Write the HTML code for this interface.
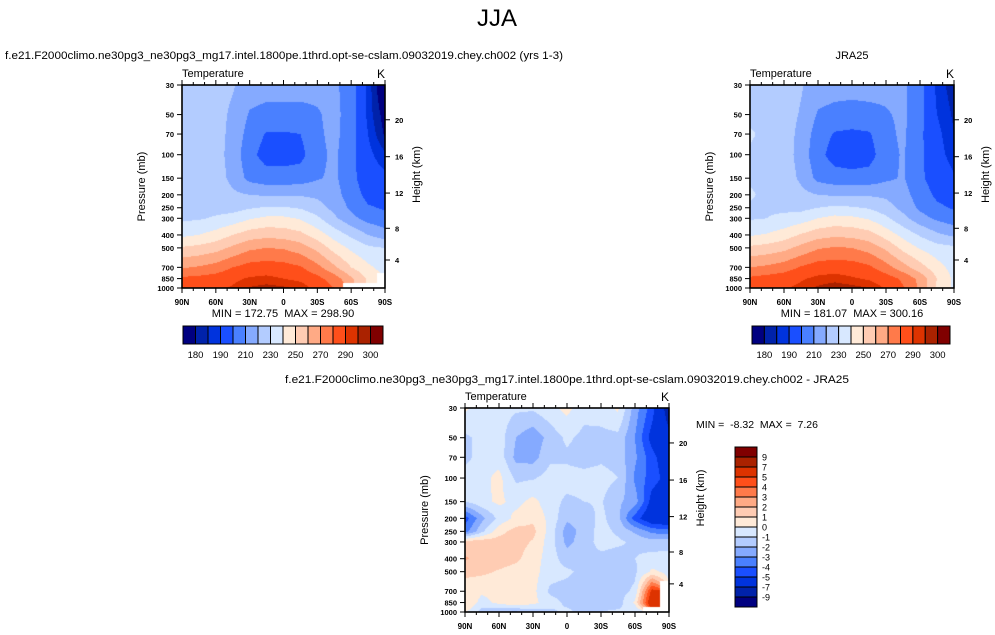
<!DOCTYPE html>
<html><head><meta charset="utf-8">
<style>
html,body{margin:0;padding:0;background:#fff;}
#root{position:relative;width:995px;height:635px;overflow:hidden;background:#fff;font-family:"Liberation Sans",sans-serif;}
canvas{position:absolute;}
svg{position:absolute;left:0;top:0;}
</style></head>
<body>
<div id="root">
<canvas id="c1"></canvas>
<canvas id="c2"></canvas>
<canvas id="c3"></canvas>
<svg id="ov" width="995" height="635"></svg>
</div>
<script>
// ---------- data ----------
const P = [30,50,70,100,150,200,250,300,400,500,700,850,1000];
const LAT = [90,75,60,45,30,15,0,-15,-30,-45,-60,-75,-90];
const LAT_TICKS = [90,60,30,0,-30,-60,-90];
const LAT_LABELS = ['90N','60N','30N','0','30S','60S','90S'];
const HEIGHT_KM = [4,8,12,16,20];
const HEIGHT_P = [616.6,356.5,194.0,103.5,54.7];
const LEV_T = [180,185,190,200,210,220,230,240,250,260,270,280,290,295,300];
const LEV_T_LABELS = ['180','190','210','230','250','270','290','300'];
const LEV_D = [-9,-7,-5,-4,-3,-2,-1,0,1,2,3,4,5,7,9];
const LEV_D_LABELS = ['-9','-7','-5','-4','-3','-2','-1','0','1','2','3','4','5','7','9'];
const COLORS = ['#000080','#0022aa','#0033dd','#1a4fff','#4a80ff','#85aaff','#b3ccff','#d8e8ff',
                '#ffead8','#ffccb3','#ffaa85','#ff7a4a','#ff4f1a','#dd3300','#aa2200','#800000'];
const MODEL_T = [
 [226,225,224,221,215,214,214,214,213,212,205,188,172],
 [227,226,224,218,209,207,207,207,209,213,205,188,177],
 [227,226,224,217,206,199,199,200,208,213,204,190,179],
 [228,226,224,216,203,196,196,197,207,212,203,192,186],
 [228,227,225,217,207,204,204,205,209,212,203,194,192],
 [228,227,226,222,220,219,219,219,218,214,205,197,196],
 [228,228,227,226,229,231,231,229,224,217,208,201,199],
 [228,229,231,234,239,242,242,239,232,222,213,206,203],
 [238,240,244,250,255,257,256,253,245,236,228,220,215],
 [251,253,256,262,268,270,269,265,257,246,238,232,230],
 [269,271,274,280,284,285,284,281,273,262,250,242,236],
 [282,283,285,288,291,292,290,288,283,275,262,248,null],
 [285,286,288,291,295.5,297,296,294,287,280,null,null,null]
];
const JRA_T = [
 [227,226,225,221,215,214,214,214,213,212,204,188,182],
 [228,227,225,219,209,207,206,207,209,212,203,190,184],
 [231,228,225,217,205,199,198,199,207,212,202,192,185],
 [229,227,225,216,203,196,195,196,206,211,202,193,187],
 [229,228,226,218,207,204,203,204,208,211,202,195,191],
 [231,228,227,223,220,219,219,219,218,214,205,198,195],
 [229,229,228,227,230,232,231,229,224,217,208,202,199],
 [229,230,232,235,240,243,242,239,232,223,214,208,204],
 [239,241,245,251,256,258,257,254,246,237,229,222,218],
 [252,254,257,263,269,271,270,266,258,247,239,234,232],
 [270,272,275,281,285,286,285,282,274,264,254,244,236],
 [282,284,286,289,292,293,291,289,285,278,267,250,238],
 [285,287,289,292,296,298,297,295,289,281,268,248,238]
];
const DIFF_T = [
 [0.2,-0.5,-0.5,-0.8,-0.8,-0.3,0.3,-0.6,-0.5,0.2,-2.5,-4.5,-8],
 [-1.2,-0.7,-0.5,-2.0,-2.7,-1.6,-0.8,-1.3,-1.3,-1.3,-3,-5.5,-6.5],
 [-1.3,-0.6,-0.4,-2.3,-2.4,-1.2,-1.2,-1.5,-1.2,-1.4,-2.8,-4.6,-6],
 [-0.5,-0.3,0.3,-1.2,-1.1,-0.6,-0.6,-0.6,-0.6,-1.0,-3.2,-4.5,-5.5],
 [-1.0,-0.3,0.2,-0.3,0.3,-0.6,-1.2,-1.0,-0.9,-1.8,-2.5,-5.5,-6.2],
 [-4.5,-2.3,-0.7,0.3,0.8,-0.3,-1.8,-1.6,-0.7,-1.7,-4.5,-6.2,-6.5],
 [-3.5,-1.2,0.6,1.4,1.3,-0.4,-2.5,-1.6,-0.6,-1.2,-2.2,-3.3,-3.6],
 [1.5,1.6,1.5,1.4,0.9,-0.5,-2.3,-1.5,-0.6,-0.8,-1.2,-1.6,-1.4],
 [2.1,1.7,1.5,1.2,0.5,-0.5,-1.5,-1.4,-1.3,-1.5,-1.0,-0.6,-0.6],
 [1.3,1.2,0.9,0.6,0.4,-0.6,-0.8,-1.3,-1.5,-1.5,-1.2,0.2,-0.3],
 [0.4,0.2,0.4,0.5,0.3,-1.2,-1.4,-1.5,-1.5,-1.4,-0.8,5.5,null],
 [1.1,-0.4,0.3,0.9,0.3,-0.6,-1.2,-1.5,-1.4,-1.5,0.2,6.5,null],
 [0.2,-1.5,-2,-2.2,-1.5,-1.2,-0.8,-1.3,-1.0,-0.8,-1,null,null]
];

// ---------- helpers ----------
const NS='http://www.w3.org/2000/svg';
const ov=document.getElementById('ov');
function mk(tag,attrs,parent){const e=document.createElementNS(NS,tag);for(const k in attrs)e.setAttribute(k,attrs[k]);(parent||ov).appendChild(e);return e;}
function txt(s,x,y,size,anchor,extra){const e=mk('text',Object.assign({x:x,y:y,'font-size':size,'text-anchor':anchor||'start','font-family':'Liberation Sans, sans-serif',fill:'#000'},extra||{}));e.textContent=s;return e;}
function hex(c){return [parseInt(c.substr(1,2),16),parseInt(c.substr(3,2),16),parseInt(c.substr(5,2),16)];}
function colorIdx(v,lev){let i=0;while(i<lev.length&&v>=lev[i])i++;return i;}

function makePanel(id,L,T,W,H,data,lev){
  const xOf=lat=>L+W*(90-lat)/180;
  const yOf=p=>T+H*Math.log(p/30)/Math.log(1000/30);
  const cv=document.getElementById(id);
  cv.width=W;cv.height=H;cv.style.left=L+'px';cv.style.top=T+'px';
  const ctx=cv.getContext('2d');const img=ctx.createImageData(W,H);
  const gx=LAT.map(xOf), gy=P.map(yOf);
  const rgb=COLORS.map(hex);
  for(let py=0;py<H;py++){
    const y=T+py+0.5;
    let j=0;while(j<gy.length-2&&y>gy[j+1])j++;
    const ty=Math.min(1,Math.max(0,(y-gy[j])/(gy[j+1]-gy[j])));
    for(let px=0;px<W;px++){
      const x=L+px+0.5;
      let i=0;while(i<gx.length-2&&x>gx[i+1])i++;
      const tx=Math.min(1,Math.max(0,(x-gx[i])/(gx[i+1]-gx[i])));
      const c=[[data[j][i],(1-tx)*(1-ty)],[data[j][i+1],tx*(1-ty)],[data[j+1][i],(1-tx)*ty],[data[j+1][i+1],tx*ty]];
      const ni=tx<0.5?i:i+1, nj=ty<0.5?j:j+1;
      const k=(py*W+px)*4;
      if(data[nj][ni]===null){img.data[k]=255;img.data[k+1]=255;img.data[k+2]=255;img.data[k+3]=255;continue;}
      let s=0,w=0;for(const [v,ww] of c){if(v!==null){s+=v*ww;w+=ww;}}
      const col=rgb[colorIdx(s/w,lev)];
      img.data[k]=col[0];img.data[k+1]=col[1];img.data[k+2]=col[2];img.data[k+3]=255;
    }
  }
  ctx.putImageData(img,0,0);
  const g=mk('g',{});
  
  
  mk('rect',{x:L,y:T,width:W,height:H,fill:'none',stroke:'#000','stroke-width':1.6},g);
  for(let lat=90;lat>=-90;lat-=10){
    const x=xOf(lat);const major=(lat%30===0);const len=major?5:3;
    mk('line',{x1:x,y1:T,x2:x,y2:T-len,stroke:'#000','stroke-width':1},g);
    mk('line',{x1:x,y1:T+H,x2:x,y2:T+H+len,stroke:'#000','stroke-width':1},g);
  }
  LAT_TICKS.forEach((lat,n)=>{
    const t=txt(LAT_LABELS[n],xOf(lat),T+H+17,8,'middle',{'font-weight':'bold'});
    
    
  });
  P.forEach(p=>{
    const y=yOf(p);
    mk('line',{x1:L,y1:y,x2:L-5,y2:y,stroke:'#000','stroke-width':1},g);
    const t=txt(String(p),L-8,y+3,7.5,'end',{'font-weight':'bold'});
    
    
  });
  HEIGHT_KM.forEach((h,n)=>{
    const y=yOf(HEIGHT_P[n]);
    mk('line',{x1:L+W,y1:y,x2:L+W+5,y2:y,stroke:'#000','stroke-width':1},g);
    const t=txt(String(h),L+W+10,y+3,7.5,'start',{'font-weight':'bold'});
    
    
  });
  const yl=txt('Pressure (mb)',0,0,11,'middle',{transform:'translate('+(L-37)+','+(T+H/2)+') rotate(-90)'});
  
  
  const yr=txt('Height (km)',0,0,11,'middle',{transform:'translate('+(L+W+35)+','+(T+H/2-12)+') rotate(-90)'});
  
  
  const tt=txt('Temperature',L,T-8,11,'start');
  
  
  const ku=txt('K',L+W,T-7,12,'end');
  
  
}

function hColorbar(x0,y0,w,h,labels){
  const bw=w/16;
  COLORS.forEach((c,i)=>{
    const r=mk('rect',{x:x0+i*bw,y:y0,width:bw,height:h,fill:c,stroke:'#000','stroke-width':1});
    
    
  });
  labels.forEach((s,n)=>{
    const t=txt(s,x0+(2*n+1)*bw,y0+h+14,9.5,'middle');
    
    
  });
}
function vColorbar(x0,y0,w,h,labels){
  const bh=h/16;
  COLORS.forEach((c,i)=>{
    const r=mk('rect',{x:x0,y:y0+(15-i)*bh,width:w,height:bh,fill:c,stroke:'#000','stroke-width':1});
    
    
  });
  labels.forEach((s,n)=>{
    const t=txt(s,x0+w+5,y0+(15-n)*bh+3.5,9,'start');
    
    
  });
}

// ---------- build ----------
const title=txt('JJA',497,26,24,'middle');


const t1=txt('f.e21.F2000climo.ne30pg3_ne30pg3_mg17.intel.1800pe.1thrd.opt-se-cslam.09032019.chey.ch002 (yrs 1-3)',5,59,11,'start',{textLength:558,lengthAdjust:'spacingAndGlyphs'});


const t2=txt('JRA25',852,59,11,'middle');


const t3=txt('f.e21.F2000climo.ne30pg3_ne30pg3_mg17.intel.1800pe.1thrd.opt-se-cslam.09032019.chey.ch002 - JRA25',567,383,11,'middle',{textLength:564,lengthAdjust:'spacingAndGlyphs'});



makePanel('c1',182,85,203,203,MODEL_T,LEV_T);
makePanel('c2',750,85,204,203,JRA_T,LEV_T);
makePanel('c3',465,408,204,204,DIFF_T,LEV_D);

const m1=txt('MIN = 172.75  MAX = 298.90',283,317,11,'middle',{style:'white-space:pre'});


const m2=txt('MIN = 181.07  MAX = 300.16',852,317,11,'middle',{style:'white-space:pre'});


const m3=txt('MIN =  -8.32  MAX =  7.26',696,428,10.5,'start',{style:'white-space:pre'});



hColorbar(183,326,200,18,LEV_T_LABELS);
hColorbar(752,326,198,18,LEV_T_LABELS);
vColorbar(735,447,22,160,LEV_D_LABELS);
</script>
</body></html>
